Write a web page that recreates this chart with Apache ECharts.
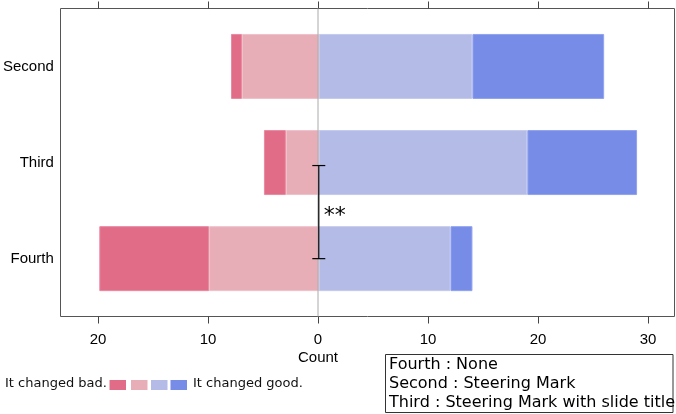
<!DOCTYPE html>
<html>
<head>
<meta charset="utf-8">
<script src="https://cdn.jsdelivr.net/npm/echarts@6/dist/echarts.min.js"></script>
<style>
  body { margin: 0; background: #ffffff; }
  #chart { width: 676px; height: 414px; }
</style>
</head>
<body>
<div id="chart"></div>
<script>
// categories, top to bottom
const categories = ['Second', 'Third', 'Fourth']
// counts per answer level
const strongBad = [1, 2, 10]
const mildBad = [7, 3, 10]
const mildGood = [14, 19, 12]
const strongGood = [12, 10, 2]
const tickValues = [-20, -10, 0, 10, 20, 30]
const axisTitle = 'Count'
const legendLabels = ['It changed bad.', 'It changed good.']
const noteLines = ['Fourth : None', 'Second : Steering Mark', 'Third : Steering Mark with slide title']
// significance bracket between Third and Fourth
const bracket = [[0, 1, 2, '**']]

const colors = ['#e16c88', '#e8aeb8', '#b3bbe6', '#768ce6']
const borders = ['#e98aa1', '#efc2ca', '#c5cbee', '#91a3f0']

const xMin = -23.41
const xMax = 32.41
const sans = 'Liberation Sans, Arial, sans-serif'
const dejavu = 'DejaVu Sans, sans-serif'

const chart = echarts.init(document.getElementById('chart'), null, { renderer: 'canvas' })

function barSeries (name, values, sign, idx) {
  return {
    name: name,
    type: 'bar',
    stack: 'total',
    xAxisIndex: 2,
    yAxisIndex: 1,
    barWidth: 65,
    data: values.map(v => sign * v),
    itemStyle: { color: colors[idx], borderColor: borders[idx], borderWidth: 1 },
    emphasis: { disabled: true }
  }
}

const graphics = [
  {
    type: 'text',
    left: 5,
    top: 377,
    style: { text: legendLabels[0], font: '13px ' + dejavu, fill: '#111' }
  },
  {
    type: 'text',
    left: 193,
    top: 377,
    style: { text: legendLabels[1], font: '13px ' + dejavu, fill: '#111' }
  },
  {
    type: 'rect',
    shape: { x: 385.5, y: 354.5, width: 287.5, height: 58 },
    style: { fill: 'none', stroke: '#333', lineWidth: 1 }
  }
]
const keyX = [109.5, 131, 151, 170.5]
keyX.forEach((x, i) => {
  graphics.push({
    type: 'rect',
    shape: { x: x, y: 380, width: 16.5, height: 10 },
    style: { fill: colors[i] }
  })
})
noteLines.forEach((t, i) => {
  graphics.push({
    type: 'text',
    x: 389,
    y: 365 + i * 19,
    style: { text: t, font: '16px ' + dejavu, fill: '#000', verticalAlign: 'middle' }
  })
})

chart.setOption({
  animation: false,
  grid: [
    {
      left: 60.5,
      right: 1.5,
      top: 8.5,
      bottom: 97.5,
      show: true,
      borderColor: '#555',
      borderWidth: 1,
      backgroundColor: 'transparent'
    },
    {
      left: 60.5,
      right: 1.5,
      top: 18.4,
      height: 288.3
    }
  ],
  xAxis: [
    {
      type: 'value',
      gridIndex: 0,
      position: 'bottom',
      min: xMin,
      max: xMax,
      axisLine: { show: false },
      axisTick: { show: true, length: 7, customValues: tickValues, lineStyle: { color: '#444' } },
      axisLabel: {
        customValues: tickValues,
        formatter: v => String(Math.abs(v)),
        fontSize: 15,
        fontFamily: sans,
        color: '#000',
        margin: 16
      },
      splitLine: { show: false }
    },
    {
      type: 'value',
      gridIndex: 0,
      position: 'top',
      min: xMin,
      max: xMax,
      axisLine: { show: false },
      axisTick: { show: true, length: 7, customValues: tickValues, lineStyle: { color: '#444' } },
      axisLabel: { show: false },
      splitLine: { show: false }
    },
    {
      type: 'value',
      gridIndex: 1,
      min: xMin,
      max: xMax,
      show: false
    }
  ],
  yAxis: [
    {
      type: 'value',
      gridIndex: 0,
      min: 0,
      max: 1,
      show: false
    },
    {
      type: 'category',
      gridIndex: 1,
      data: categories,
      inverse: true,
      axisLine: { show: false },
      axisTick: { show: false },
      axisLabel: { fontSize: 15, fontFamily: sans, color: '#000', margin: 8 },
      splitLine: { show: false }
    }
  ],
  series: [
    barSeries('mildBad', mildBad, -1, 1),
    barSeries('strongBad', strongBad, -1, 0),
    barSeries('mildGood', mildGood, 1, 2),
    barSeries('strongGood', strongGood, 1, 3),
    {
      // zero line
      type: 'line',
      xAxisIndex: 0,
      yAxisIndex: 0,
      data: [[0, 0], [0, 1]],
      symbol: 'none',
      z: 5,
      lineStyle: { color: '#aaa', width: 1 },
      silent: true
    },
    {
      type: 'custom',
      xAxisIndex: 2,
      yAxisIndex: 1,
      z: 6,
      silent: true,
      data: bracket,
      renderItem: function (params, api) {
        const top = api.coord([api.value(0), api.value(1)])
        const bot = api.coord([api.value(0), api.value(2)])
        const x = top[0]
        const y1 = top[1] + 3
        const y2 = bot[1]
        const line = { stroke: '#000', lineWidth: 1.2 }
        return {
          type: 'group',
          children: [
            { type: 'line', shape: { x1: x, y1: y1, x2: x, y2: y2 }, style: line },
            { type: 'line', shape: { x1: x - 6.5, y1: y1, x2: x + 6.5, y2: y1 }, style: line },
            { type: 'line', shape: { x1: x - 6.5, y1: y2, x2: x + 6.5, y2: y2 }, style: line },
            {
              type: 'text',
              x: x + 5,
              y: (y1 + y2) / 2 + 4,
              style: {
                text: bracket[params.dataIndex][3],
                font: '22px ' + dejavu,
                fill: '#000',
                verticalAlign: 'middle'
              }
            }
          ]
        }
      }
    }
  ],
  graphic: graphics
})

// axis title sits under the zero of the count axis
const zeroX = chart.convertToPixel({ xAxisIndex: 0 }, 0)
graphics.push({
  type: 'text',
  x: zeroX,
  y: 358,
  style: { text: axisTitle, font: '15px ' + sans, fill: '#000', align: 'center', verticalAlign: 'middle' }
})
chart.setOption({ graphic: graphics })
</script>
</body>
</html>
